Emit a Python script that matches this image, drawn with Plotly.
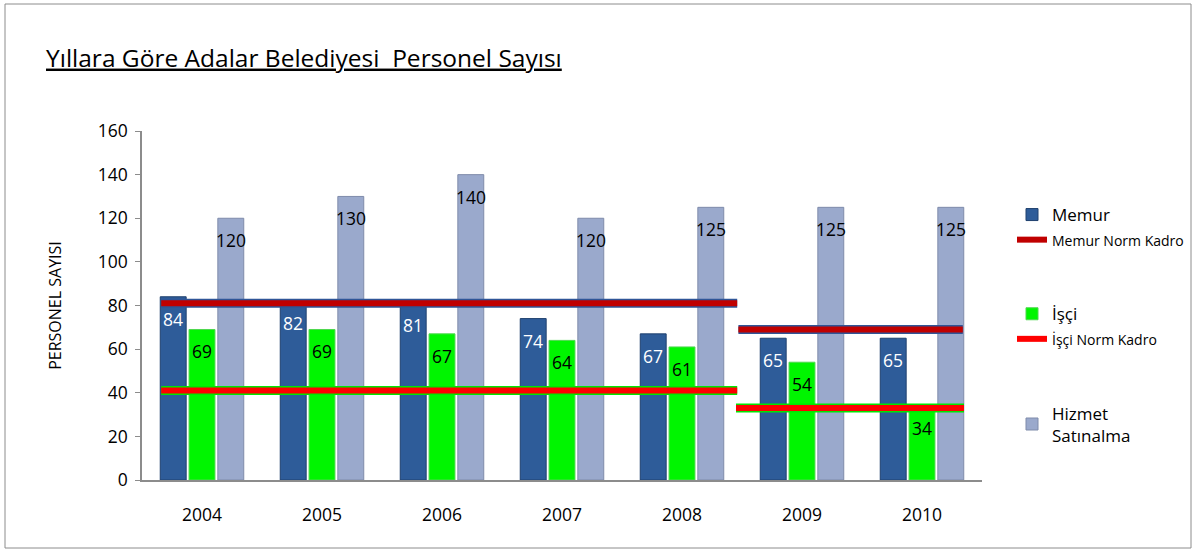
import plotly.graph_objects as go

years = ["2004", "2005", "2006", "2007", "2008", "2009", "2010"]
memur = [84, 82, 81, 74, 67, 65, 65]
isci = [69, 69, 67, 64, 61, 54, 34]
hizmet = [120, 130, 140, 120, 125, 125, 125]

# Norm kadro segments (x in category index units, y values)
memur_norm_x = [-0.34, 4.46, None, 4.47, 6.34]
memur_norm_y = [81, 81, None, 69, 69]
isci_norm_x = [-0.34, 4.46, None, 4.45, 6.35]
isci_norm_y = [41, 41, None, 33, 33]

FONT = "Open Sans"
xs = list(range(len(years)))
BARGAP = 0.28
GROUPGAP = 0.1

W, H = 1197, 554
L, T = 142, 131
PLOT_W, PLOT_H = 840, 349
R = W - L - PLOT_W
B = H - T - PLOT_H

fig = go.Figure()

fig.add_trace(go.Bar(x=xs, y=memur, name="Memur", marker=dict(color="#2E5C99", line=dict(color="#1F406E", width=1)),
                     legendgroup="a"))
fig.add_trace(go.Bar(x=xs, y=isci, name="İşçi", marker=dict(color="#00F500", line=dict(color="#4FD84F", width=1)),
                     legendgroup="b"))
fig.add_trace(go.Bar(x=xs, y=hizmet, name="Hizmet<br>Satınalma", marker=dict(color="#9AA9CC", line=dict(color="#7F8BAA", width=1)),
                     legendgroup="c"))

# Norm lines: border then inner
fig.add_trace(go.Scatter(x=memur_norm_x, y=memur_norm_y, mode="lines", line=dict(color="#2F5597", width=9),
                         showlegend=False, legendgroup="a", hoverinfo="skip"))
fig.add_trace(go.Scatter(x=memur_norm_x, y=memur_norm_y, mode="lines", line=dict(color="#C00000", width=6),
                         name='<span style="font-size:14px">Memur Norm Kadro</span>', legendgroup="a"))
fig.add_trace(go.Scatter(x=isci_norm_x, y=isci_norm_y, mode="lines", line=dict(color="#00E600", width=9),
                         showlegend=False, legendgroup="b", hoverinfo="skip"))
fig.add_trace(go.Scatter(x=isci_norm_x, y=isci_norm_y, mode="lines", line=dict(color="#FF0000", width=6),
                         name='<span style="font-size:14px">İşçi Norm Kadro</span>', legendgroup="b"))

# data labels
slot_px = (1 - BARGAP) / 3 * PLOT_W / len(years)
annotations = []
for series, shift, col in [(memur, -1, "white"), (isci, 0, "black"), (hizmet, 1, "black")]:
    for i, v in enumerate(series):
        annotations.append(dict(x=i, y=v, xref="x", yref="y", text=str(v), showarrow=False,
                                xshift=shift * slot_px, yshift=-22,
                                font=dict(family=FONT, size=17.5, color=col)))

fig.update_layout(
    width=W, height=H, autosize=False,
    margin=dict(l=L, r=R, t=T, b=B, pad=0, autoexpand=False),
    paper_bgcolor="white", plot_bgcolor="white",
    barmode="group", bargap=BARGAP, bargroupgap=GROUPGAP,
    font=dict(family=FONT, size=17, color="black"),
    title=dict(text="<u>Yıllara Göre Adalar Belediyesi  Personel Sayısı</u>", x=46 / W, xanchor="left",
               y=1 - 58 / H, yanchor="middle", font=dict(family=FONT, size=24.5, color="black")),
    xaxis=dict(range=[-0.5, 6.5], tickmode="array", tickvals=xs, ticktext=years, showline=True,
               linecolor="#8C8C8C", linewidth=1.5, ticks="", showgrid=False, zeroline=False,
               ticklabelstandoff=18, tickfont=dict(size=17.5), automargin=False),
    yaxis=dict(range=[0, 160], dtick=20, showline=True, linecolor="#8C8C8C", linewidth=1.5, ticks="outside",
               ticklen=5, tickcolor="#8C8C8C", showgrid=False, zeroline=False, tickfont=dict(size=17.5),
               ticklabelstandoff=4, automargin=False,
               title=dict(text="PERSONEL SAYISI", font=dict(size=16), standoff=32)),
    legend=dict(x=(1012 - L) / PLOT_W, xanchor="left", y=1 - (197 - T) / PLOT_H, yanchor="top",
                tracegroupgap=49, traceorder="grouped",
                font=dict(size=17), itemwidth=30, bgcolor="rgba(0,0,0,0)"),
    annotations=annotations,
    shapes=[dict(type="rect", xref="paper", yref="paper",
                 x0=(5 - L) / PLOT_W, x1=(1191 - L) / PLOT_W,
                 y0=-(548 - T - PLOT_H) / PLOT_H, y1=1 + (T - 4) / PLOT_H,
                 line=dict(color="#8C8C8C", width=1), layer="below")],
)

fig.write_html(
    "out.html",
    config={"displayModeBar": False, "responsive": False},
    post_script="document.body.style.margin='0';document.documentElement.style.overflow='hidden';",
)
